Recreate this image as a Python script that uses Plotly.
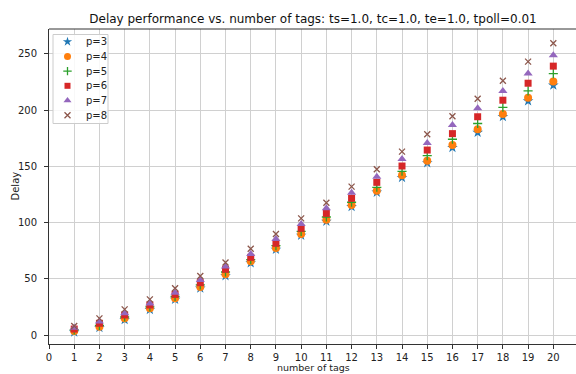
import plotly.graph_objects as go

# number of tags on the x axis
tags = list(range(1, 21))

# mean delay for each polling parameter p
delay_p3 = [2.5, 6.5, 13.5, 22.5, 31.5, 41.5, 52.5, 64.0, 76.0, 88.5,
            101.0, 114.0, 126.8, 139.8, 153.0, 166.5, 180.0, 194.0, 208.0, 222.0]
delay_p4 = [3.6, 7.4, 14.8, 23.7, 32.6, 42.7, 54.0, 65.5, 77.3, 89.8,
            102.5, 115.6, 128.3, 142.0, 155.0, 169.0, 182.8, 196.4, 211.0, 225.3]
delay_p5 = [4.5, 8.6, 16.0, 25.0, 34.2, 44.5, 56.0, 67.0, 79.4, 92.1,
            104.9, 118.0, 131.3, 145.5, 159.4, 174.0, 188.0, 202.4, 217.0, 232.3]
delay_p6 = [5.3, 10.4, 17.8, 26.7, 36.1, 46.5, 58.4, 69.0, 81.5, 94.8,
            108.1, 121.5, 135.7, 150.2, 164.4, 179.0, 194.0, 208.7, 223.8, 239.0]
delay_p7 = [6.5, 11.9, 19.3, 28.1, 37.6, 48.9, 61.0, 72.0, 85.3, 98.7,
            112.6, 126.5, 140.7, 156.4, 170.7, 186.7, 201.5, 217.0, 232.5, 248.6]
delay_p8 = [8.0, 14.8, 22.8, 31.7, 41.5, 52.4, 64.5, 76.7, 89.8, 103.7,
            117.6, 131.9, 147.3, 163.0, 178.4, 194.4, 210.0, 226.0, 243.0, 259.3]

series_names = ["p=3", "p=4", "p=5", "p=6", "p=7", "p=8"]
series_values = [delay_p3, delay_p4, delay_p5, delay_p6, delay_p7, delay_p8]

x_ticks = list(range(0, 21))
y_ticks = [0, 50, 100, 150, 200, 250]

colors = ["#1f77b4", "#ff7f0e", "#2ca02c", "#d62728", "#9467bd", "#8c564b"]
symbols = ["star", "circle", "cross-thin", "square", "triangle-up", "x-thin"]
sizes = [8, 8, 6.5, 7, 8, 6]

FONT = "DejaVu Sans"
TXT = "#222222"
W, H = 576, 374
L, R, T, B = 49, 0, 29, 30
PW, PH = W - L - R, H - T - B


def marker_style(sym, sz, col):
    thin = sym.endswith("-thin")
    return dict(symbol=sym, size=sz, color=col,
                line=dict(color=col, width=1.3 if thin else 0))


fig = go.Figure()
for name, vals, col, sym, sz in zip(series_names, series_values, colors, symbols, sizes):
    fig.add_trace(go.Scatter(
        x=tags, y=vals, mode="markers", name=name, showlegend=False,
        marker=marker_style(sym, sz, col),
    ))

# legend box, laid out in pixel units of the plot area (overlay axes x2/y2)
leg_left, leg_top = 53, 34.5
leg_w, leg_h = 55, 89
row0, row_gap = 41.7, 14.7
sym_x, txt_x = 67.5, 84
bx0, bx1 = leg_left - L, leg_left - L + leg_w
by0, by1 = leg_top - T, leg_top - T + leg_h
fig.add_trace(go.Scatter(
    x=[bx0, bx1, bx1, bx0, bx0], y=[by0, by0, by1, by1, by0],
    xaxis="x2", yaxis="y2", mode="lines", fill="toself",
    fillcolor="rgba(255,255,255,0.85)", line=dict(color="#cccccc", width=1),
    showlegend=False, hoverinfo="skip",
))
for i, (name, col, sym, sz) in enumerate(zip(series_names, colors, symbols, sizes)):
    yy = row0 + i * row_gap - T
    fig.add_trace(go.Scatter(
        x=[sym_x - L], y=[yy], xaxis="x2", yaxis="y2", mode="markers",
        showlegend=False, hoverinfo="skip",
        marker=marker_style(sym, max(sz - 1, 6), col),
    ))
    fig.add_annotation(x=txt_x - L, y=yy, xref="x2", yref="y2", text=name,
                       showarrow=False, xanchor="left", yanchor="middle",
                       font=dict(family=FONT, size=10, color=TXT))

# axis titles (paper coordinates are relative to the plot area)
fig.add_annotation(x=(313 - L) / PW, y=-(374 - (H - B)) / PH,
                   xref="paper", yref="paper",
                   text="number of tags", showarrow=False, borderpad=0,
                   xanchor="center", yanchor="bottom",
                   font=dict(family=FONT, size=9.5, color=TXT))
fig.add_annotation(x=(15 - L) / PW, y=0.5, xref="paper", yref="paper",
                   text="Delay", showarrow=False, textangle=-90,
                   xanchor="center", yanchor="middle",
                   font=dict(family=FONT, size=10, color=TXT))

axis_common = dict(
    showgrid=True, gridcolor="#d0d0d0", gridwidth=1,
    showline=True, linecolor="#333333", linewidth=1,
    ticks="outside", ticklen=4, tickcolor="#333333", tickwidth=1,
    zeroline=False, automargin=False,
    tickfont=dict(family=FONT, size=10, color=TXT),
)

fig.update_layout(
    width=W, height=H,
    margin=dict(l=L, r=R, t=T, b=B, pad=0),
    paper_bgcolor="white", plot_bgcolor="white",
    font=dict(family=FONT, size=10, color=TXT),
    title=dict(
        text="Delay performance vs. number of tags: ts=1.0, tc=1.0, te=1.0, tpoll=0.01",
        font=dict(family=FONT, size=12, color="#111111"),
        x=(L + 577) / 2 / W, xanchor="center", xref="container",
        y=1 - 19 / H, yanchor="middle", yref="container",
    ),
    xaxis=dict(axis_common, range=[0, 20.9], tickmode="array",
               tickvals=x_ticks, ticktext=[str(t) for t in x_ticks],
               ticklabelstandoff=0),
    yaxis=dict(axis_common, range=[-8.0, 272], tickmode="array",
               tickvals=y_ticks, ticktext=[str(t) for t in y_ticks],
               ticklabelstandoff=5),
    xaxis2=dict(overlaying="x", range=[0, PW], visible=False, fixedrange=True),
    yaxis2=dict(overlaying="y", range=[PH, 0], visible=False, fixedrange=True),
    showlegend=False,
)

# top frame line of the axes box
fig.add_shape(type="line", xref="paper", yref="paper", x0=0, x1=1, y0=1, y1=1,
              line=dict(color="#333333", width=1))

fig.write_html("out.html")
